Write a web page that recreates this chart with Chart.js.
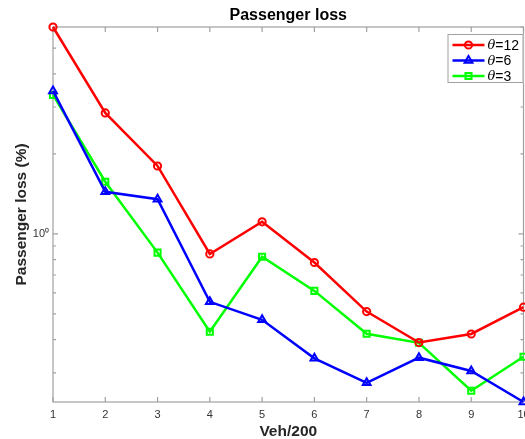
<!DOCTYPE html>
<html>
<head>
<meta charset="utf-8">
<script src="https://cdn.jsdelivr.net/npm/chart.js@4"></script>
<style>
  body { margin: 0; background: #fff; overflow: hidden; }
  #wrap { width: 525px; height: 439px; overflow: hidden; }
</style>
</head>
<body>
<div id="wrap"><canvas id="lossChart" width="530" height="439"></canvas></div>
<script>
// data (log y axis)
var vehLabels = ['1', '2', '3', '4', '5', '6', '7', '8', '9', '10'];
var theta12 = [6.0, 2.85, 1.80, 0.84, 1.11, 0.78, 0.51, 0.39, 0.42, 0.53];
var theta6 = [3.45, 1.44, 1.35, 0.555, 0.475, 0.34, 0.275, 0.342, 0.305, 0.233];
var theta3 = [3.33, 1.57, 0.85, 0.428, 0.82, 0.61, 0.421, 0.389, 0.257, 0.345];
var seriesNames = ['12', '6', '3'];
var yMin = 0.233, yMax = 6.0;

var FONT = '"Liberation Sans", Arial, Helvetica, sans-serif';
var AXIS_COLOR = '#a0a0a0';

function isDecadeStep(v) {
  var e = Math.floor(Math.log10(v) + 1e-9);
  var s = v / Math.pow(10, e);
  return Math.abs(s - Math.round(s)) < 1e-6;
}

// box + inward tick marks + title + legend, matlab look
var matlabAxes = {
  id: 'matlabAxes',
  beforeDatasetsDraw(chart) {
    var ctx = chart.ctx, a = chart.chartArea;
    var xs = chart.scales.x, ys = chart.scales.y;
    ctx.save();
    ctx.strokeStyle = AXIS_COLOR;
    ctx.lineWidth = 1.2;
    ctx.strokeRect(a.left, a.top, a.right - a.left, a.bottom - a.top);
    ctx.beginPath();
    xs.ticks.forEach(function (t, i) {
      var px = xs.getPixelForTick(i);
      ctx.moveTo(px, a.bottom); ctx.lineTo(px, a.bottom - 5);
      ctx.moveTo(px, a.top); ctx.lineTo(px, a.top + 5);
    });
    ys.ticks.forEach(function (t) {
      if (!isDecadeStep(t.value)) return;
      var py = ys.getPixelForValue(t.value);
      var len = Math.abs(t.value - 1) < 1e-9 ? 5 : 3;
      ctx.moveTo(a.left, py); ctx.lineTo(a.left + len, py);
      ctx.moveTo(a.right, py); ctx.lineTo(a.right - len, py);
    });
    ctx.stroke();

    // title centred over the axes
    ctx.fillStyle = '#000';
    ctx.font = 'bold 16px ' + FONT;
    ctx.textAlign = 'center';
    ctx.textBaseline = 'middle';
    ctx.fillText('Passenger loss', (a.left + a.right) / 2, 16);
    ctx.restore();
  },
  afterDraw(chart) {
    var ctx = chart.ctx, a = chart.chartArea;
    var bx = a.right - 76, by = a.top + 7, bw = 76, bh = 49;
    ctx.save();
    ctx.fillStyle = '#fff';
    ctx.fillRect(bx, by, bw, bh);
    ctx.strokeStyle = AXIS_COLOR;
    ctx.lineWidth = 1;
    ctx.strokeRect(bx + 0.5, by + 0.5, bw - 1, bh - 1);
    chart.data.datasets.forEach(function (ds, i) {
      var y = by + 11 + i * 15.5;
      ctx.strokeStyle = ds.borderColor;
      ctx.lineWidth = 2.5;
      ctx.beginPath();
      ctx.moveTo(bx + 5, y); ctx.lineTo(bx + 37, y);
      ctx.stroke();
      ctx.lineWidth = 2;
      ctx.fillStyle = 'rgba(0,0,0,0)';
      Chart.helpers.drawPoint(ctx, { pointStyle: ds.pointStyle, radius: ds.pointRadius, borderWidth: 2, rotation: 0 }, bx + 21, y);
      ctx.fillStyle = '#000';
      ctx.textBaseline = 'middle';
      ctx.font = 'italic 13px "DejaVu Serif", serif';
      ctx.fillText('\u03b8', bx + 40, y + 1);
      var w = ctx.measureText('\u03b8').width;
      ctx.font = '14px ' + FONT;
      ctx.fillText('=' + seriesNames[i], bx + 40 + w, y + 1);
    });
    ctx.restore();
  }
};

new Chart(document.getElementById('lossChart').getContext('2d'), {
  type: 'line',
  data: {
    labels: vehLabels,
    datasets: [
      {
        label: '\u03b8=' + seriesNames[0],
        data: theta12,
        borderColor: '#ff0000',
        pointBorderColor: '#ff0000',
        pointBackgroundColor: 'rgba(0,0,0,0)',
        pointStyle: 'circle',
        pointRadius: 3.6,
        pointBorderWidth: 2,
        borderWidth: 2.5,
        clip: false,
      },
      {
        label: '\u03b8=' + seriesNames[1],
        data: theta6,
        borderColor: '#0000ff',
        pointBorderColor: '#0000ff',
        pointBackgroundColor: 'rgba(0,0,0,0)',
        pointStyle: 'triangle',
        pointRadius: 4.5,
        pointBorderWidth: 2,
        borderWidth: 2.5,
        clip: false,
      },
      {
        label: '\u03b8=' + seriesNames[2],
        data: theta3,
        borderColor: '#00ff00',
        pointBorderColor: '#00ff00',
        pointBackgroundColor: 'rgba(0,0,0,0)',
        pointStyle: 'rect',
        pointRadius: 4.3,
        pointBorderWidth: 2,
        borderWidth: 2.5,
        clip: false,
      },
    ],
  },
  options: {
    responsive: false,
    animation: false,
    layout: { padding: { left: 0, right: 0, top: 27, bottom: 0 } },
    plugins: {
      legend: { display: false },
      tooltip: { enabled: false },
      title: { display: false },
    },
    scales: {
      x: {
        type: 'category',
        offset: false,
        grid: { display: false, drawTicks: false },
        border: { display: false },
        ticks: { autoSkip: false, maxRotation: 0, padding: 6, color: '#333', font: { family: FONT, size: 11 } },
        title: {
          display: true,
          text: 'Veh/200',
          color: '#262626',
          font: { family: FONT, size: 15.5, weight: 'bold' },
          padding: { top: 0, bottom: -2 },
        },
        afterFit: function (s) { s.height = 37; s.paddingRight = 0; },
      },
      y: {
        type: 'logarithmic',
        min: yMin,
        max: yMax,
        grid: { display: false, drawTicks: false },
        border: { display: false },
        ticks: {
          autoSkip: false,
          padding: 4,
          color: '#333',
          font: { family: FONT, size: 11 },
          callback: function (v) { return Math.abs(v - 1) < 1e-9 ? '10\u2070' : ''; },
        },
        title: {
          display: true,
          text: 'Passenger loss (%)',
          color: '#262626',
          font: { family: FONT, size: 15.5, weight: 'bold' },
          padding: { top: 12, bottom: 0 },
        },
        afterFit: function (s) { s.width = 53; },
      },
    },
  },
  plugins: [matlabAxes],
});
</script>
</body>
</html>
